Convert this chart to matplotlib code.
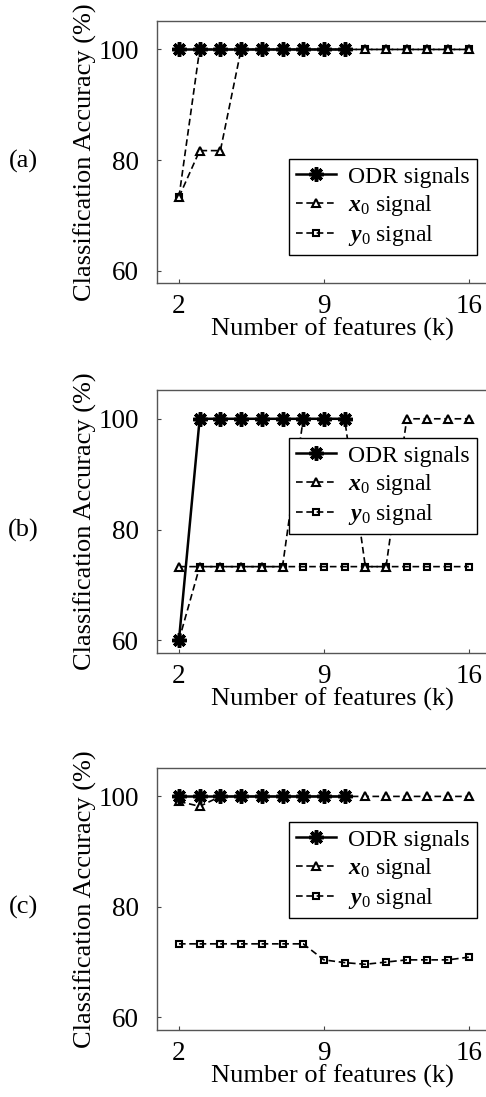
import numpy as np
import matplotlib
matplotlib.use('Agg')
import matplotlib.pyplot as plt

plt.rcParams['font.family'] = ['Liberation Serif', 'DejaVu Serif']
plt.rcParams['mathtext.fontset'] = 'custom'
plt.rcParams['mathtext.rm'] = 'Liberation Serif'
plt.rcParams['mathtext.it'] = 'Liberation Serif:italic'
plt.rcParams['mathtext.bf'] = 'Liberation Serif:bold'
plt.rcParams['mathtext.bfit'] = 'Liberation Serif:bold:italic'

# number of features
k_all = [2, 3, 4, 5, 6, 7, 8, 9, 10, 11, 12, 13, 14, 15, 16]
k_odr = [2, 3, 4, 5, 6, 7, 8, 9, 10]

# panel (a)
odr_a = [100, 100, 100, 100, 100, 100, 100, 100, 100]
x0_a = [73.3, 81.7, 81.7, 100, 100, 100, 100, 100, 100, 100, 100, 100, 100, 100, 100]
y0_a = [73.3, 100, 100, 100, 100, 100, 100, 100, 100, 100, 100, 100, 100, 100, 100]

# panel (b)
odr_b = [60, 100, 100, 100, 100, 100, 100, 100, 100]
x0_b = [73.3, 73.3, 73.3, 73.3, 73.3, 73.3, 100, 100, 100, 73.3, 73.3, 100, 100, 100, 100]
y0_b = [60, 73.3, 73.3, 73.3, 73.3, 73.3, 73.3, 73.3, 73.3, 73.3, 73.3, 73.3, 73.3, 73.3, 73.3]

# panel (c)
odr_c = [100, 100, 100, 100, 100, 100, 100, 100, 100]
x0_c = [99.1, 98.2, 100, 100, 100, 100, 100, 100, 100, 100, 100, 100, 100, 100, 100]
y0_c = [73.3, 73.3, 73.3, 73.3, 73.3, 73.3, 73.3, 70.4, 69.9, 69.6, 70.0, 70.4, 70.4, 70.4, 70.9]

panels = [('(a)', odr_a, x0_a, y0_a), ('(b)', odr_b, x0_b, y0_b), ('(c)', odr_c, x0_c, y0_c)]

W, H = 486, 1097
fig = plt.figure(figsize=(W / 100, H / 100), dpi=100)

# axes boxes in pixels: top, bottom ; legend top in pixels
tops = [20.7, 390, 767.7]
bottoms = [283.3, 653, 1030]
leg_tops = [159, 438, 822]
left_px, right_px = 157, 507  # right spine falls outside the image

dash = (0, (4, 2.2))
for (lab, odr, x0, y0), top, bot, ltop in zip(panels, tops, bottoms, leg_tops):
    ax = fig.add_axes([left_px / W, 1 - bot / H, (right_px - left_px) / W, (bot - top) / H])
    ax.plot(k_all, y0, linestyle=dash, color='black', lw=1.2, marker='s', ms=4.5,
            mfc='none', mec='black', mew=1.5, label=r'$\mathbfit{y}_0$ signal', zorder=2)
    ax.plot(k_all, x0, linestyle=dash, color='black', lw=1.2, marker='^', ms=6,
            mfc='white', mec='black', mew=1.5, label=r'$\mathbfit{x}_0$ signal', zorder=3)
    ax.plot(k_odr, odr, '-', color='black', lw=1.8, marker=(8, 2, 0), ms=10.5, mew=2.5,
            label='ODR signals', zorder=4)

    ax.set_xlim(0.94, 17.84)
    ax.set_ylim(57.7, 105.2)
    ax.set_xticks([2, 9, 16])
    ax.set_yticks([60, 80, 100])
    ax.tick_params(direction='in', length=3, width=0.8, labelsize=19.5, pad=8, colors='#444444',
                   labelcolor='black')
    ax.tick_params(axis='y', pad=13)
    for s in ax.spines.values():
        s.set_color('#555555')
        s.set_linewidth(1.0)
    ax.set_xlabel('Number of features (k)', fontsize=19, labelpad=-1)
    ax.set_ylabel('Classification Accuracy (%)', fontsize=19, labelpad=1)

    h, l = ax.get_legend_handles_labels()
    ax_w = right_px - left_px
    ax_h = bot - top
    leg = ax.legend(h[::-1], l[::-1], loc='upper right',
                    bbox_to_anchor=((477 - left_px) / ax_w, (bot - ltop) / ax_h),
                    fontsize=17, frameon=True, fancybox=False, framealpha=1,
                    edgecolor='black', handlelength=1.7, handletextpad=0.5,
                    borderpad=0.3, labelspacing=0.22, borderaxespad=0)
    leg.get_frame().set_linewidth(1.0)

    fig.text(23 / W, 1 - ((top + bot) / 2 + 9) / H, lab, fontsize=19, ha='center', va='center')

fig.savefig('out.png', dpi=100)
